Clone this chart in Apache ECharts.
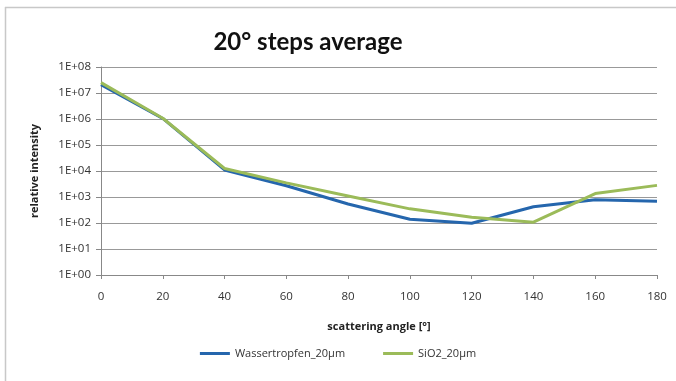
<!DOCTYPE html>
<html>
<head>
<meta charset="utf-8">
<script src="https://cdn.jsdelivr.net/npm/echarts@6/dist/echarts.min.js"></script>
<style>
  html, body { margin: 0; padding: 0; background: #fff; }
  #chart { width: 676px; height: 381px; }
</style>
</head>
<body>
<div id="chart"></div>
<script>
// scattering angles in degrees
const angles = [0, 20, 40, 60, 80, 100, 120, 140, 160, 180];
// averaged relative intensity per 20° step
const wassertropfen = [2.1e7, 1.05e6, 1.1e4, 2.7e3, 540, 140, 98, 420, 780, 680];
const sio2 = [2.5e7, 1.07e6, 1.25e4, 3.5e3, 1.1e3, 350, 165, 108, 1350, 2800];
const seriesNames = ['Wassertropfen_20µm', 'SiO2_20µm'];

const font = '"Open Sans", Lato, sans-serif';
const chart = echarts.init(document.getElementById('chart'));

function pairs(values) {
  return angles.map((a, i) => [a, values[i]]);
}

chart.setOption({
  animation: false,
  backgroundColor: '#fff',
  title: {
    text: '20° steps average',
    left: 303, top: 25, textAlign: 'center',
    textStyle: { fontFamily: 'Lato, sans-serif', fontSize: 24, fontWeight: 'bold', color: '#111' }
  },
  legend: {
    data: seriesNames,
    left: 'center', top: 343,
    itemWidth: 30, itemHeight: 3, itemGap: 38,
    icon: 'rect',
    textStyle: { fontFamily: font, fontSize: 11, color: '#333' }
  },
  grid: { left: 101, right: 19, top: 67, bottom: 106 },
  xAxis: {
    type: 'value', min: 0, max: 180, interval: 20,
    name: 'scattering angle [°]', nameLocation: 'middle', nameGap: 46,
    nameTextStyle: { fontFamily: font, fontSize: 11, fontWeight: 'bold', color: '#222' },
    axisLine: { lineStyle: { color: '#888', width: 1 } },
    axisTick: { show: true, length: 4, lineStyle: { color: '#888' } },
    axisLabel: { fontFamily: font, fontSize: 11.5, color: '#333', margin: 16 },
    splitLine: { show: false }
  },
  yAxis: {
    type: 'log', logBase: 10, min: 1, max: 1e8,
    name: 'relative intensity', nameLocation: 'middle', nameGap: 61,
    nameTextStyle: { fontFamily: font, fontSize: 11, fontWeight: 'bold', color: '#222' },
    axisLine: { show: true, lineStyle: { color: '#888', width: 1 } },
    axisTick: { show: true, length: 5, lineStyle: { color: '#888' } },
    axisLabel: {
      fontFamily: font, fontSize: 11.5, color: '#333', margin: 10,
      formatter: v => {
        const e = Math.round(Math.log10(v));
        return '1E+' + String(e).padStart(2, '0');
      }
    },
    splitLine: { show: true, lineStyle: { color: '#999', width: 1 } }
  },
  series: [
    {
      name: seriesNames[0], type: 'line', data: pairs(wassertropfen),
      showSymbol: false, symbol: 'none',
      lineStyle: { width: 3, color: '#2566ad' }, itemStyle: { color: '#2566ad' }
    },
    {
      name: seriesNames[1], type: 'line', data: pairs(sio2),
      showSymbol: false, symbol: 'none',
      lineStyle: { width: 3, color: '#9bbb59' }, itemStyle: { color: '#9bbb59' }
    }
  ],
  graphic: [
    { type: 'line', shape: { x1: 5, y1: 7.5, x2: 676, y2: 7.5 }, style: { stroke: '#c8c8c8', lineWidth: 1.5 } },
    { type: 'line', shape: { x1: 5.5, y1: 7, x2: 5.5, y2: 381 }, style: { stroke: '#c8c8c8', lineWidth: 1.5 } }
  ]
});
</script>
</body>
</html>
